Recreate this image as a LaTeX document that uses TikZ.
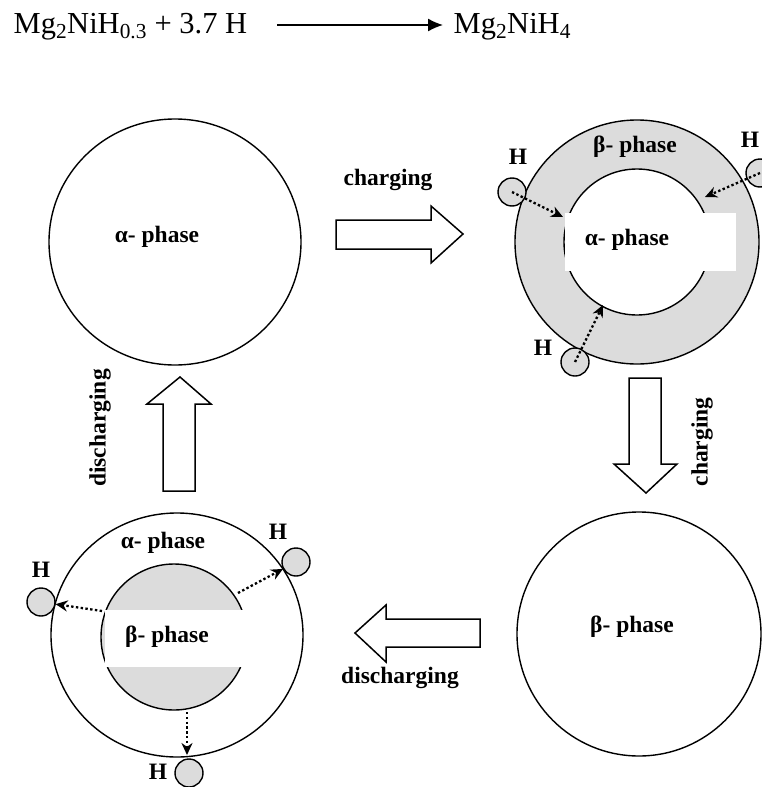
\documentclass[tikz,border=0pt]{standalone}
\usepackage{fontspec}
\setmainfont{Liberation Serif}
\usetikzlibrary{arrows.meta}
\definecolor{ringgray}{RGB}{220,220,220}
\begin{document}
\begin{tikzpicture}[x=1pt,y=-1pt, line width=1.4pt,
  lbl/.style={font=\fontsize{23.5}{26}\selectfont\bfseries, inner sep=0pt},
  eqtext/.style={font=\fontsize{30.5}{32}\selectfont, inner sep=0pt, anchor=base west},
  hatom/.style={circle, draw, fill=ringgray, minimum size=28pt, inner sep=0pt, line width=1.4pt},
  blockarrow/.style={draw, fill=white, line width=1.5pt, line join=miter},
  dotarrow/.style={dash pattern=on 2.4pt off 2.4pt, line width=2.3pt, -{Stealth[length=12pt,width=11pt]}}]
\useasboundingbox (0,0) rectangle (761,787);

% equation
\node[eqtext] (lhs) at (13,33) {Mg\textsubscript{2}NiH\textsubscript{0.3} + 3.7 H};
\node[eqtext] (rhs) at (453,33) {Mg\textsubscript{2}NiH\textsubscript{4}};
\coordinate (eqa) at (277,25);
\coordinate (eqb) at (443,25);
\draw[line width=1.3pt, -{Latex[length=15pt,width=13pt]}] (eqa) -- (eqb);

% top-left circle (alpha)
\draw (175,242) ellipse [x radius=126pt, y radius=123pt];
\node[lbl] (tl) at (157,237) {α- phase};

% top-right ring
\fill[ringgray] (637,242) circle [radius=122pt];
\draw (637,242) circle [radius=122pt];
\fill[white] (637,242) circle [radius=73pt];
\draw (637,242) circle [radius=73pt];
\fill[white] (565,213) rectangle (736,271);
\node[lbl] (trb) at (635,147) {β- phase};
\node[lbl] (tra) at (627,240) {α- phase};

\node[hatom] (h1) at (512,192) {};
\node[hatom] (h2) at (760,173) {};
\node[hatom] (h3) at (575,362) {};
\node[lbl] (lh1) at (518,157) {H};
\node[lbl] (lh2) at (750,140) {H};
\node[lbl] (lh3) at (543,348) {H};
\coordinate (t1) at (563,217);
\coordinate (t2) at (705,197);
\coordinate (t3) at (603,305);
\draw[dotarrow] (h1.center) -- (t1);
\draw[dotarrow] (h2.center) -- (t2);
\draw[dotarrow] (h3.center) -- (t3);

% bottom-right circle (beta)
\draw (639,634) circle [radius=122pt];
\node[lbl] (br) at (632,627) {β- phase};

% bottom-left circle
\draw (177,635) ellipse [x radius=126pt, y radius=122pt];
\fill[ringgray] (174,637) circle [radius=73pt];
\draw (174,637) circle [radius=73pt];
\fill[white] (105,610) rectangle (255,667);
\node[lbl] (bla) at (163,543) {α- phase};
\node[lbl] (blb) at (167,637) {β- phase};

\node[hatom] (h4) at (41,602) {};
\node[hatom] (h5) at (296,562) {};
\node[hatom] (h6) at (189,773) {};
\node[lbl] (lh4) at (41,570) {H};
\node[lbl] (lh5) at (278,532) {H};
\node[lbl] (lh6) at (158,772) {H};
\coordinate (s4) at (102,611);
\coordinate (s5) at (238,593);
\coordinate (s6) at (187,712);
\coordinate (t6) at (187,755);
\draw[dotarrow] (s4) -- (h4);
\draw[dotarrow] (s5) -- (h5);
\draw[dotarrow] (s6) -- (t6);

% block arrows
\draw[blockarrow] (336,220) -- (431,220) -- (431,206) -- (463,234) -- (431,263) -- (431,249) -- (336,249) -- cycle;
\draw[blockarrow] (163,491) -- (163,404) -- (147,404) -- (180,377) -- (211,404) -- (195,404) -- (195,491) -- cycle;
\draw[blockarrow] (629,378) -- (661,378) -- (661,464) -- (677,464) -- (646,493) -- (614,464) -- (629,464) -- cycle;
\draw[blockarrow] (480,619) -- (386,619) -- (386,605) -- (355,633) -- (386,662) -- (386,647) -- (480,647) -- cycle;

\node[lbl] (c1) at (388,180) {charging};
\node[lbl, rotate=90] (d1) at (100,428) {discharging};
\node[lbl, rotate=90] (c2) at (702,442) {charging};
\node[lbl] (d2) at (400,678) {discharging};
\end{tikzpicture}
\end{document}
